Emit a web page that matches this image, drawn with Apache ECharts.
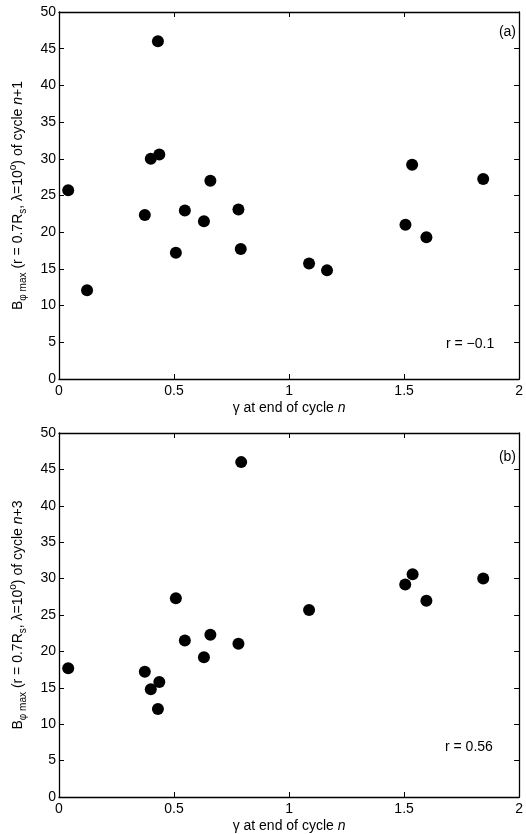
<!DOCTYPE html>
<html>
<head>
<meta charset="utf-8">
<script src="https://cdn.jsdelivr.net/npm/echarts@6/dist/echarts.min.js"></script>
<style>
html,body{margin:0;padding:0;background:#fff;}
#chart{width:526px;height:834px;}
</style>
</head>
<body>
<div id="chart"></div>
<script>
// ---- data ----
const gammaA = [0.04, 0.122, 0.373, 0.399, 0.43, 0.436, 0.508, 0.547, 0.63, 0.658, 0.78, 0.79, 1.087, 1.165, 1.506, 1.535, 1.597, 1.844];
const bmaxA  = [25.7, 12.1, 22.35, 30.0, 46.0, 30.6, 17.2, 22.95, 21.5, 27.0, 23.1, 17.7, 15.75, 14.8, 21.0, 29.2, 19.3, 27.25];
const gammaB = [0.04, 0.373, 0.399, 0.43, 0.436, 0.508, 0.547, 0.63, 0.658, 0.78, 0.792, 1.087, 1.505, 1.537, 1.597, 1.844];
const bmaxB  = [17.7, 17.2, 14.8, 12.1, 15.8, 27.3, 21.5, 19.2, 22.3, 21.05, 46.0, 25.7, 29.2, 30.6, 26.95, 30.0];
const panelLabels = ['(a)', '(b)'];
const corrLabels = ['r = \u22120.1', 'r = 0.56'];
const yNameSuffix = ['+1', '+3'];
const xName = '\u03b3 at end of cycle {i|n}';

const FONT = '"Liberation Sans", Arial, Helvetica, sans-serif';
const FS = 14;
const chart = echarts.init(document.getElementById('chart'), null, {renderer: 'canvas'});

const grids = [
  {left: 58, top: 12, width: 463, height: 367},
  {left: 58, top: 433, width: 463, height: 366}
];

const richStyles = {
  n: {fontSize: FS, fontFamily: FONT, color: '#000', lineHeight: 20},
  i: {fontSize: FS, fontFamily: FONT, color: '#000', fontStyle: 'italic', lineHeight: 20},
  sub: {fontSize: 10, fontFamily: FONT, color: '#000', verticalAlign: 'bottom', lineHeight: 20},
  sup: {fontSize: 10, fontFamily: FONT, color: '#000', verticalAlign: 'top', lineHeight: 20}
};

const xAxes = [], yAxes = [], series = [];
[0, 1].forEach(g => {
  const base = {
    gridIndex: g, type: 'value', min: 0, max: 2, interval: 0.5,
    axisLine: {show: true, onZero: false, lineStyle: {color: '#000', width: 1.3}},
    axisTick: {show: true, inside: true, length: 5, lineStyle: {color: '#000'}},
    splitLine: {show: false}
  };
  xAxes.push(Object.assign({}, base, {
    position: 'bottom',
    name: xName, nameLocation: 'middle', nameGap: 19,
    nameTextStyle: {fontSize: FS, fontFamily: FONT, color: '#000', rich: richStyles},
    axisLabel: {color: '#000', fontSize: FS, fontFamily: FONT, margin: 5}
  }));
  xAxes.push(Object.assign({}, base, {position: 'top', axisLabel: {show: false}}));
  const ybase = {
    gridIndex: g, type: 'value', min: 0, max: 50, interval: 5,
    axisLine: {show: true, onZero: false, lineStyle: {color: '#000', width: 1.3}},
    axisTick: {show: true, inside: true, length: 5, lineStyle: {color: '#000'}},
    splitLine: {show: false}
  };
  yAxes.push(Object.assign({}, ybase, {
    position: 'left',
    name: '{n|B}{sub|\u03c6 max}{n| (r = 0.7R}{sub|s}{n|, \u03bb=10}{sup|o}{n|) of cycle }{i|n}{n|' + yNameSuffix[g] + '}',
    nameLocation: 'middle', nameRotate: 90, nameGap: 31,
    nameTextStyle: {fontSize: FS, fontFamily: FONT, color: '#000', rich: richStyles},
    axisLabel: {color: '#000', fontSize: FS, fontFamily: FONT, margin: 3}
  }));
  yAxes.push(Object.assign({}, ybase, {position: 'right', axisLabel: {show: false}}));
  const xs = g === 0 ? gammaA : gammaB;
  const ys = g === 0 ? bmaxA : bmaxB;
  series.push({
    type: 'scatter', xAxisIndex: g * 2, yAxisIndex: g * 2,
    symbol: 'circle', symbolSize: 12,
    itemStyle: {color: '#000', opacity: 1},
    emphasis: {disabled: true},
    data: xs.map((x, k) => [x, ys[k]])
  });
});

chart.setOption({
  animation: false,
  backgroundColor: '#fff',
  grid: grids,
  xAxis: xAxes,
  yAxis: yAxes,
  series: series,
  graphic: [
    {type: 'text', right: 10, top: 25, style: {text: panelLabels[0], font: FS + 'px ' + FONT, fill: '#000'}},
    {type: 'text', left: 446, top: 337, style: {text: corrLabels[0], font: FS + 'px ' + FONT, fill: '#000'}},
    {type: 'text', right: 10, top: 450, style: {text: panelLabels[1], font: FS + 'px ' + FONT, fill: '#000'}},
    {type: 'text', left: 445, top: 740, style: {text: corrLabels[1], font: FS + 'px ' + FONT, fill: '#000'}}
  ]
});
</script>
</body>
</html>
